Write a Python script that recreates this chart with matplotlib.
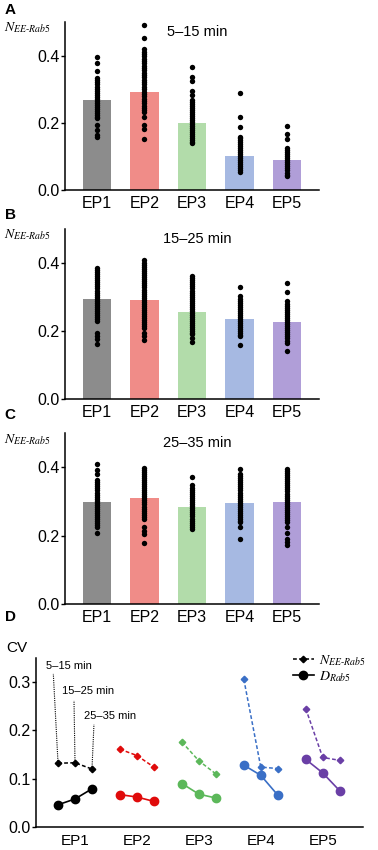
import numpy as np
import matplotlib.pyplot as plt

plt.rcParams['font.family'] = ['Liberation Sans', 'DejaVu Sans']
plt.rcParams['mathtext.fontset'] = 'stix'

# --- données ---
eps = ["EP1", "EP2", "EP3", "EP4", "EP5"]
bar_colors = ["#8c8c8c", "#f08c88", "#b2dcaa", "#a6b9e2", "#b09ed8"]
line_colors = ["#000000", "#e00b0b", "#5cb85a", "#3a6fc6", "#6a3fa6"]

titles = ["5–15 min", "15–25 min", "25–35 min"]
means_a = [0.268, 0.292, 0.200, 0.101, 0.089]
means_b = [0.293, 0.290, 0.256, 0.236, 0.226]
means_c = [0.297, 0.310, 0.284, 0.295, 0.297]

# points individuels
dots_a = [
    [0.397, 0.377, 0.355, 0.333, 0.326, 0.320, 0.314, 0.308, 0.302, 0.296, 0.290, 0.284, 0.278,
     0.272, 0.266, 0.260, 0.254, 0.248, 0.242, 0.236, 0.230, 0.224, 0.218, 0.213, 0.194, 0.179, 0.164, 0.159],
    [0.491, 0.452, 0.419, 0.412, 0.405, 0.398, 0.391, 0.384, 0.377, 0.370, 0.363, 0.356, 0.349, 0.342,
     0.335, 0.328, 0.321, 0.314, 0.307, 0.300, 0.293, 0.286, 0.279, 0.272, 0.265, 0.258, 0.251, 0.244,
     0.238, 0.233, 0.217, 0.194, 0.181, 0.152],
    [0.367, 0.336, 0.323, 0.296, 0.283, 0.268, 0.262, 0.256, 0.250, 0.244, 0.238, 0.232, 0.226, 0.220,
     0.214, 0.208, 0.202, 0.196, 0.190, 0.184, 0.178, 0.172, 0.166, 0.160, 0.154, 0.148, 0.143, 0.139],
    [0.288, 0.218, 0.186, 0.159, 0.154, 0.148, 0.142, 0.136, 0.130, 0.124, 0.118, 0.112, 0.106, 0.100,
     0.094, 0.088, 0.082, 0.076, 0.070, 0.064, 0.058, 0.053],
    [0.191, 0.167, 0.152, 0.124, 0.118, 0.112, 0.106, 0.100, 0.094, 0.088, 0.082, 0.076, 0.070, 0.064,
     0.058, 0.052, 0.046, 0.042],
]
dots_b = [
    [0.385, 0.379, 0.373, 0.367, 0.361, 0.355, 0.349, 0.343, 0.337, 0.331, 0.325, 0.319, 0.313, 0.307,
     0.301, 0.295, 0.289, 0.283, 0.277, 0.271, 0.265, 0.259, 0.253, 0.247, 0.241, 0.235, 0.229, 0.195,
     0.185, 0.175, 0.163],
    [0.409, 0.400, 0.394, 0.388, 0.382, 0.376, 0.370, 0.364, 0.358, 0.352, 0.346, 0.340, 0.334, 0.328,
     0.322, 0.316, 0.310, 0.304, 0.298, 0.292, 0.286, 0.280, 0.274, 0.268, 0.262, 0.256, 0.250, 0.244,
     0.238, 0.232, 0.226, 0.220, 0.214, 0.209, 0.195, 0.185, 0.173],
    [0.361, 0.355, 0.349, 0.343, 0.337, 0.331, 0.325, 0.319, 0.313, 0.307, 0.301, 0.295, 0.289, 0.283,
     0.277, 0.271, 0.265, 0.259, 0.253, 0.247, 0.241, 0.235, 0.229, 0.223, 0.217, 0.211, 0.205, 0.199,
     0.193, 0.190, 0.180, 0.167],
    [0.328, 0.303, 0.295, 0.289, 0.283, 0.277, 0.271, 0.265, 0.259, 0.253, 0.247, 0.241, 0.235, 0.229,
     0.223, 0.217, 0.211, 0.205, 0.199, 0.193, 0.187, 0.185, 0.160],
    [0.340, 0.316, 0.288, 0.280, 0.274, 0.268, 0.262, 0.256, 0.250, 0.244, 0.238, 0.232, 0.226, 0.220,
     0.214, 0.208, 0.202, 0.196, 0.190, 0.184, 0.178, 0.172, 0.165, 0.142],
]
dots_c = [
    [0.410, 0.392, 0.379, 0.362, 0.356, 0.350, 0.344, 0.338, 0.332, 0.326, 0.320, 0.314, 0.308, 0.302,
     0.296, 0.290, 0.284, 0.278, 0.272, 0.266, 0.260, 0.254, 0.248, 0.242, 0.236, 0.230, 0.224, 0.207],
    [0.399, 0.393, 0.387, 0.381, 0.375, 0.369, 0.363, 0.357, 0.351, 0.345, 0.339, 0.333, 0.327, 0.321,
     0.315, 0.309, 0.303, 0.297, 0.291, 0.285, 0.279, 0.273, 0.267, 0.261, 0.255, 0.249, 0.226, 0.212,
     0.205, 0.178],
    [0.370, 0.348, 0.340, 0.334, 0.328, 0.322, 0.316, 0.310, 0.304, 0.298, 0.292, 0.286, 0.280, 0.274,
     0.268, 0.262, 0.256, 0.250, 0.244, 0.238, 0.232, 0.226, 0.219],
    [0.396, 0.380, 0.374, 0.368, 0.362, 0.356, 0.350, 0.344, 0.338, 0.332, 0.326, 0.320, 0.314, 0.308,
     0.302, 0.296, 0.290, 0.284, 0.278, 0.272, 0.266, 0.260, 0.254, 0.248, 0.242, 0.239, 0.224, 0.190],
    [0.395, 0.389, 0.383, 0.377, 0.371, 0.365, 0.359, 0.353, 0.347, 0.341, 0.335, 0.329, 0.323, 0.317,
     0.311, 0.305, 0.299, 0.293, 0.287, 0.281, 0.275, 0.269, 0.263, 0.257, 0.251, 0.245, 0.239, 0.225,
     0.209, 0.190, 0.182, 0.173],
]

# panneau D : CV par fenêtre de temps (5-15, 15-25, 25-35 min)
cv_n = [
    [0.132, 0.133, 0.120],
    [0.161, 0.148, 0.124],
    [0.176, 0.137, 0.110],
    [0.306, 0.124, 0.121],
    [0.245, 0.144, 0.138],
]
cv_d = [
    [0.046, 0.058, 0.079],
    [0.067, 0.062, 0.053],
    [0.090, 0.068, 0.060],
    [0.128, 0.107, 0.066],
    [0.140, 0.112, 0.075],
]
window_labels = ["5–15 min", "15–25 min", "25–35 min"]

N_LABEL = r"$N_{EE\text{-}Rab5}$"
D_LABEL = r"$D_{Rab5}$"

fig = plt.figure(figsize=(3.78, 8.5), dpi=100)

bar_axes = [
    fig.add_axes([0.172, 0.7765, 0.672, 0.1976]),
    fig.add_axes([0.172, 0.5306, 0.672, 0.2000]),
    fig.add_axes([0.172, 0.2894, 0.672, 0.2012]),
]
all_means = [means_a, means_b, means_c]
all_dots = [dots_a, dots_b, dots_c]
ylab_y = [1 - 28 / 850, 1 - 235 / 850, 1 - 440 / 850]
x = np.arange(len(eps))

for ax, means, dots, title, yl in zip(bar_axes, all_means, all_dots, titles, ylab_y):
    ax.bar(x, means, width=0.6, color=bar_colors, zorder=1)
    for i, d in enumerate(dots):
        ax.scatter(np.full(len(d), x[i]), d, s=15, color="black", linewidths=0, zorder=3)
    ax.set_xlim(-0.67, 4.67)
    ax.set_ylim(0, 0.5)
    ax.set_yticks([0.0, 0.2, 0.4])
    ax.set_yticklabels(["0.0", "0.2", "0.4"])
    ax.set_xticks(x)
    ax.set_xticklabels(eps)
    ax.tick_params(axis="x", length=0, pad=4, labelsize=11.5)
    ax.tick_params(axis="y", length=3, width=1, pad=1, labelsize=11.5)
    for s in ["top", "right"]:
        ax.spines[s].set_visible(False)
    for s in ["left", "bottom"]:
        ax.spines[s].set_linewidth(1.1)
    ax.text(0.52, 0.94, title, transform=ax.transAxes, ha="center", va="center", fontsize=10.5)
    fig.text(4 / 378, yl, N_LABEL, ha="left", va="center", fontsize=10)

# lettres des panneaux
for lab, yy in zip("ABCD", [0.988, 0.747, 0.512, 0.274]):
    fig.text(0.012, yy, lab, fontsize=11, fontweight="bold", va="center")

# --- panneau D ---
axd = fig.add_axes([0.0952, 0.0271, 0.865, 0.1988])
off = np.array([-0.274, 0.0, 0.274])
for i in range(len(eps)):
    c = line_colors[i]
    axd.plot(x[i] + off, cv_n[i], linestyle=(0, (2.5, 1.5)), color=c, lw=1.1,
             marker="D", markersize=3.3, zorder=3)
    axd.plot(x[i] + off, cv_d[i], linestyle="-", color=c, lw=1.2,
             marker="o", markersize=6, zorder=3)

# annotations des fenêtres de temps
lab_pos = [(-0.10, 0.334), (0.21, 0.282), (0.57, 0.230)]
line_top = [(-0.35, 0.317), (-0.016, 0.262), (0.306, 0.2125)]
for k in range(3):
    axd.plot([off[k], line_top[k][0]], [cv_n[0][k], line_top[k][1]], color="black",
             linestyle=(0, (1, 1)), lw=0.8, zorder=2)
    axd.text(lab_pos[k][0], lab_pos[k][1], window_labels[k], ha="center", va="center", fontsize=8)

h1, = axd.plot([], [], linestyle=(0, (2.5, 1.5)), color="black", lw=1.1, marker="D", markersize=3.3)
h2, = axd.plot([], [], linestyle="-", color="black", lw=1.2, marker="o", markersize=6)
axd.legend([h1, h2], [N_LABEL, D_LABEL], loc="upper right",
           bbox_to_anchor=(1.03, 1.07), frameon=False, fontsize=10, handlelength=1.5,
           handletextpad=0.4, labelspacing=0.1, borderaxespad=0.1)

axd.set_xlim(-0.63, 4.65)
axd.set_ylim(0, 0.35)
axd.set_yticks([0.0, 0.1, 0.2, 0.3])
axd.set_yticklabels(["0.0", "0.1", "0.2", "0.3"])
axd.set_xticks(x)
axd.set_xticklabels(eps)
axd.tick_params(axis="x", length=0, pad=5, labelsize=11)
axd.tick_params(axis="y", length=3, width=1, pad=1, labelsize=11.5)
for s in ["top", "right"]:
    axd.spines[s].set_visible(False)
for s in ["left", "bottom"]:
    axd.spines[s].set_linewidth(1.1)
axd.text(-0.06, 1.06, "CV", transform=axd.transAxes, ha="center", va="center", fontsize=11)

fig.savefig("out.png", dpi=100)
